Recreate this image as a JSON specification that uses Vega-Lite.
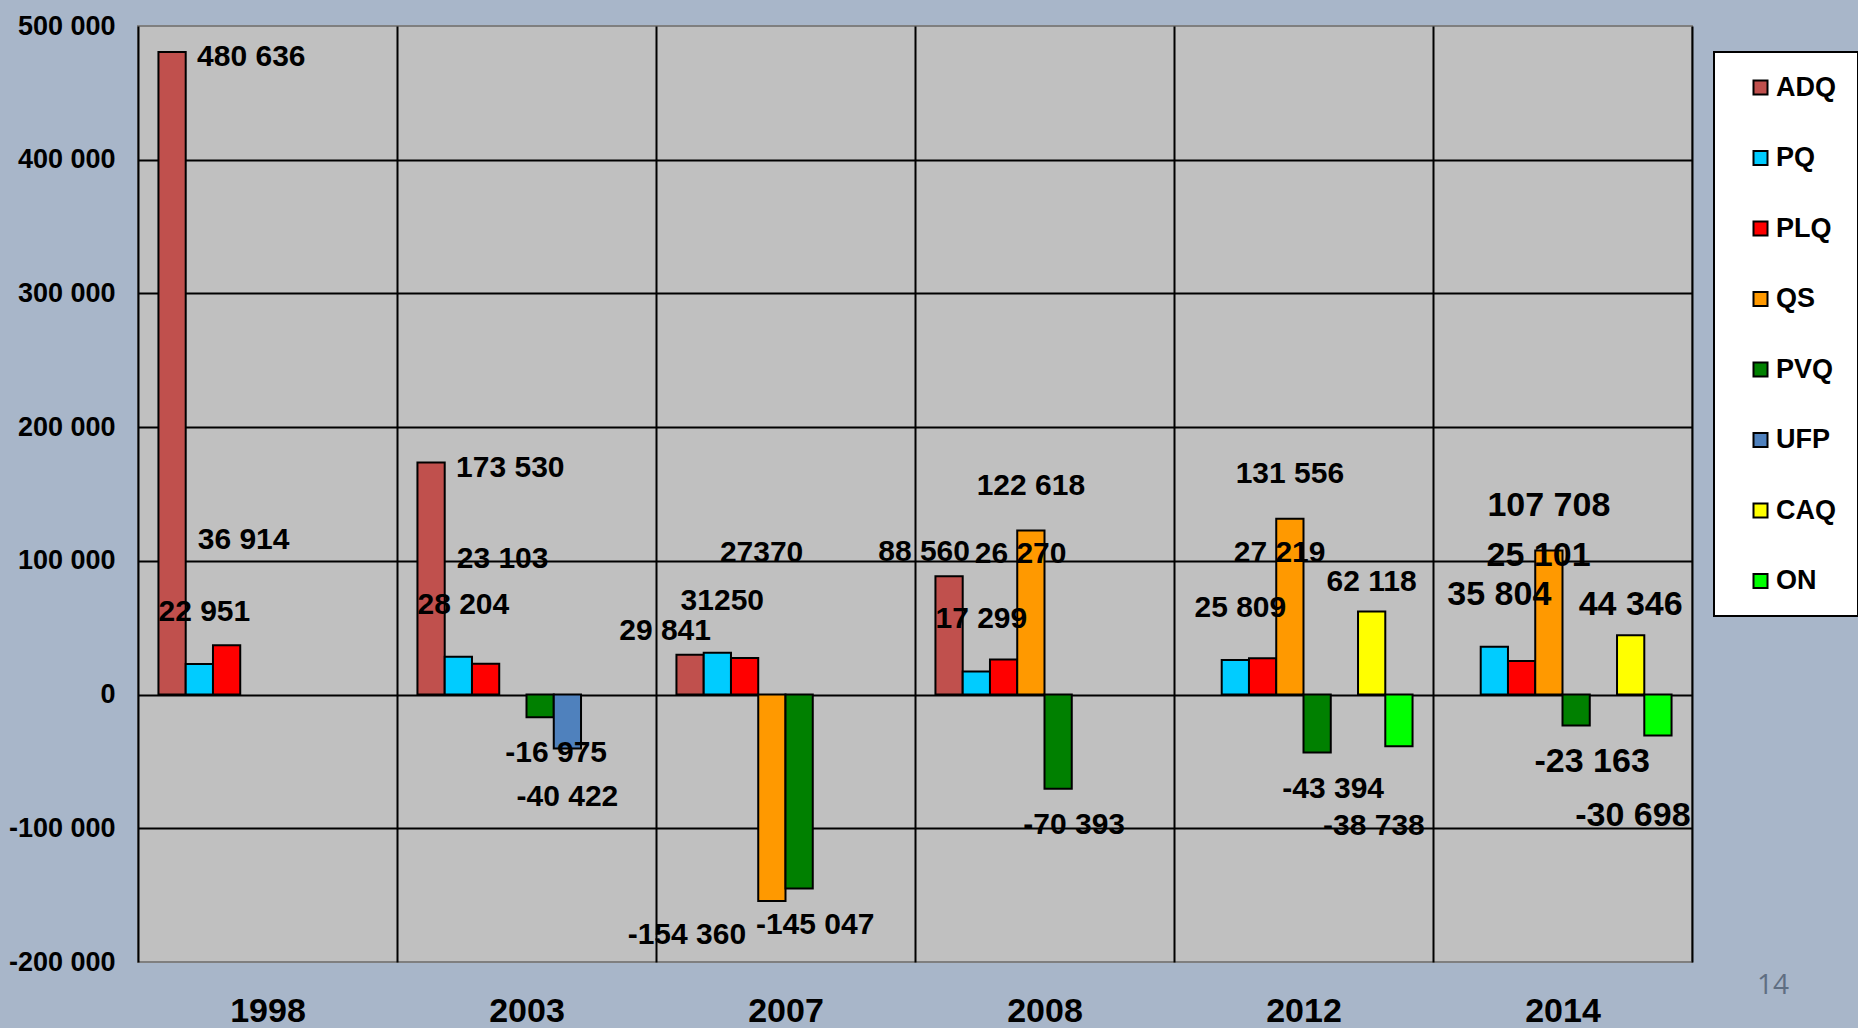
{
  "$schema": "https://vega.github.io/schema/vega-lite/v6.json",
  "width": 1554,
  "height": 936,
  "autosize": {"type": "none"},
  "padding": {"left": 138, "top": 26, "right": 166, "bottom": 66},
  "background": "#a8b6c9",
  "title": {"text": "14", "orient": "bottom", "anchor": "end", "frame": "group", "font": "Open Sans", "fontSize": 28, "fontWeight": "normal", "color": "#5f6e82", "dx": 97, "dy": -56, "offset": 0},
  "config": {
    "font": "Liberation Sans",
    "view": {"fill": "#c0c0c0", "stroke": "#7f7f7f", "strokeWidth": 2},
    "legend": {"strokeWidth": 2}
  },
  "data": {
    "values": [
      {"year": "1998", "party": "ADQ", "value": 480636, "label": "480 636"},
      {"year": "1998", "party": "PQ", "value": 22951, "label": "22 951"},
      {"year": "1998", "party": "PLQ", "value": 36914, "label": "36 914"},
      {"year": "2003", "party": "ADQ", "value": 173530, "label": "173 530"},
      {"year": "2003", "party": "PQ", "value": 28204, "label": "28 204"},
      {"year": "2003", "party": "PLQ", "value": 23103, "label": "23 103"},
      {"year": "2003", "party": "PVQ", "value": -16975, "label": "-16 975"},
      {"year": "2003", "party": "UFP", "value": -40422, "label": "-40 422"},
      {"year": "2007", "party": "ADQ", "value": 29841, "label": "29 841"},
      {"year": "2007", "party": "PQ", "value": 31250, "label": "31250"},
      {"year": "2007", "party": "PLQ", "value": 27370, "label": "27370"},
      {"year": "2007", "party": "QS", "value": -154360, "label": "-154 360"},
      {"year": "2007", "party": "PVQ", "value": -145047, "label": "-145 047"},
      {"year": "2008", "party": "ADQ", "value": 88560, "label": "88 560"},
      {"year": "2008", "party": "PQ", "value": 17299, "label": "17 299"},
      {"year": "2008", "party": "PLQ", "value": 26270, "label": "26 270"},
      {"year": "2008", "party": "QS", "value": 122618, "label": "122 618"},
      {"year": "2008", "party": "PVQ", "value": -70393, "label": "-70 393"},
      {"year": "2012", "party": "PQ", "value": 25809, "label": "25 809"},
      {"year": "2012", "party": "PLQ", "value": 27219, "label": "27 219"},
      {"year": "2012", "party": "QS", "value": 131556, "label": "131 556"},
      {"year": "2012", "party": "PVQ", "value": -43394, "label": "-43 394"},
      {"year": "2012", "party": "CAQ", "value": 62118, "label": "62 118"},
      {"year": "2012", "party": "ON", "value": -38738, "label": "-38 738"},
      {"year": "2014", "party": "PQ", "value": 35804, "label": "35 804"},
      {"year": "2014", "party": "PLQ", "value": 25101, "label": "25 101"},
      {"year": "2014", "party": "QS", "value": 107708, "label": "107 708"},
      {"year": "2014", "party": "PVQ", "value": -23163, "label": "-23 163"},
      {"year": "2014", "party": "CAQ", "value": 44346, "label": "44 346"},
      {"year": "2014", "party": "ON", "value": -30698, "label": "-30 698"}
    ]
  },
  "encoding": {
    "x": {
      "field": "year", "type": "nominal",
      "scale": {"type": "band", "paddingInner": 0, "paddingOuter": 0},
      "axis": {"title": null, "labelAngle": 0, "labelFont": "Liberation Sans", "labelFontSize": 34, "labelFontWeight": "bold", "labelColor": "black", "labelPadding": 32, "ticks": false, "domain": false, "grid": true, "gridColor": "black", "gridWidth": 2, "tickBand": "extent"}
    },
    "xOffset": {
      "field": "party", "type": "nominal",
      "scale": {"domain": ["ADQ", "PQ", "PLQ", "QS", "PVQ", "UFP", "CAQ", "ON"], "paddingInner": 0, "paddingOuter": 0.75}
    },
    "y": {
      "field": "value", "type": "quantitative",
      "scale": {"domain": [-200000, 500000], "nice": false},
      "axis": {
        "title": null,
        "values": [-200000, -100000, 0, 100000, 200000, 300000, 400000, 500000],
        "labelExpr": "replace(replace(format(datum.value, ','), ',', ' '), '\u2212', '-')",
        "labelFont": "Liberation Sans", "labelFontSize": 27, "labelFontWeight": "bold", "labelColor": "black",
        "labelPadding": 23, "ticks": false, "tickSize": 0, "domain": false, "grid": true,
        "gridColor": {"condition": {"test": "datum.value === 500000 || datum.value === -200000", "value": "transparent"}, "value": "black"},
        "gridWidth": 2
      }
    }
  },
  "layer": [
    {
      "mark": {"type": "bar", "stroke": "black", "strokeWidth": 2},
      "encoding": {
        "color": {
          "field": "party", "type": "nominal",
          "scale": {"domain": ["ADQ", "PQ", "PLQ", "QS", "PVQ", "UFP", "CAQ", "ON"], "range": ["#c0504d", "#00ccff", "#ff0000", "#ff9900", "#008000", "#4f81bd", "#ffff00", "#00ff00"]},
          "legend": {"title": null, "orient": "none", "legendX": 1576, "legendY": 26, "direction": "vertical", "fillColor": "white", "strokeColor": "black", "padding": 22, "symbolType": "square", "symbolSize": 196, "symbolStrokeColor": "black", "symbolStrokeWidth": 2, "symbolOpacity": 1, "symbolOffset": 11, "labelFont": "Liberation Sans", "labelFontSize": 27, "labelFontWeight": "bold", "labelColor": "black", "labelOffset": 2, "rowPadding": 42.5}
        }
      }
    },
    {
      "transform": [{"filter": "datum.party === 'ADQ' && datum.value > 150000"}],
      "mark": {"type": "text", "fontWeight": "bold", "color": "black", "align": "left", "baseline": "middle", "dx": 25, "dy": 5},
      "encoding": {"text": {"field": "label"}, "size": {"condition": {"test": "datum.year === '2014'", "value": 34}, "value": 30}}
    },
    {
      "transform": [{"filter": "datum.party === 'ADQ' && datum.value <= 150000"}],
      "mark": {"type": "text", "fontWeight": "bold", "color": "black", "align": "center", "baseline": "middle", "dx": -25, "dy": -24},
      "encoding": {"text": {"field": "label"}, "size": {"condition": {"test": "datum.year === '2014'", "value": 34}, "value": 30}}
    },
    {
      "transform": [{"filter": "datum.party === 'PQ'"}],
      "mark": {"type": "text", "fontWeight": "bold", "color": "black", "align": "center", "baseline": "middle", "dx": 5, "dy": -52},
      "encoding": {"text": {"field": "label"}, "size": {"condition": {"test": "datum.year === '2014'", "value": 34}, "value": 30}}
    },
    {
      "transform": [{"filter": "datum.party === 'PLQ'"}],
      "mark": {"type": "text", "fontWeight": "bold", "color": "black", "align": "center", "baseline": "middle", "dx": 17, "dy": -105},
      "encoding": {"text": {"field": "label"}, "size": {"condition": {"test": "datum.year === '2014'", "value": 34}, "value": 30}}
    },
    {
      "transform": [{"filter": "datum.party === 'QS' && datum.value > 0"}],
      "mark": {"type": "text", "fontWeight": "bold", "color": "black", "align": "center", "baseline": "middle", "dx": 0, "dy": -45},
      "encoding": {"text": {"field": "label"}, "size": {"condition": {"test": "datum.year === '2014'", "value": 34}, "value": 30}}
    },
    {
      "transform": [{"filter": "datum.party === 'QS' && datum.value < 0"}],
      "mark": {"type": "text", "fontWeight": "bold", "color": "black", "align": "center", "baseline": "middle", "dx": -85, "dy": 34},
      "encoding": {"text": {"field": "label"}, "size": {"condition": {"test": "datum.year === '2014'", "value": 34}, "value": 30}}
    },
    {
      "transform": [{"filter": "datum.party === 'PVQ'"}],
      "mark": {"type": "text", "fontWeight": "bold", "color": "black", "align": "center", "baseline": "middle", "dx": 16, "dy": 36},
      "encoding": {"text": {"field": "label"}, "size": {"condition": {"test": "datum.year === '2014'", "value": 34}, "value": 30}}
    },
    {
      "transform": [{"filter": "datum.party === 'UFP'"}],
      "mark": {"type": "text", "fontWeight": "bold", "color": "black", "align": "center", "baseline": "middle", "dx": 0, "dy": 48},
      "encoding": {"text": {"field": "label"}, "size": {"condition": {"test": "datum.year === '2014'", "value": 34}, "value": 30}}
    },
    {
      "transform": [{"filter": "datum.party === 'CAQ'"}],
      "mark": {"type": "text", "fontWeight": "bold", "color": "black", "align": "center", "baseline": "middle", "dx": 0, "dy": -30},
      "encoding": {"text": {"field": "label"}, "size": {"condition": {"test": "datum.year === '2014'", "value": 34}, "value": 30}}
    },
    {
      "transform": [{"filter": "datum.party === 'ON'"}],
      "mark": {"type": "text", "fontWeight": "bold", "color": "black", "align": "center", "baseline": "middle", "dx": -25, "dy": 80},
      "encoding": {"text": {"field": "label"}, "size": {"condition": {"test": "datum.year === '2014'", "value": 34}, "value": 30}}
    }
  ]
}
